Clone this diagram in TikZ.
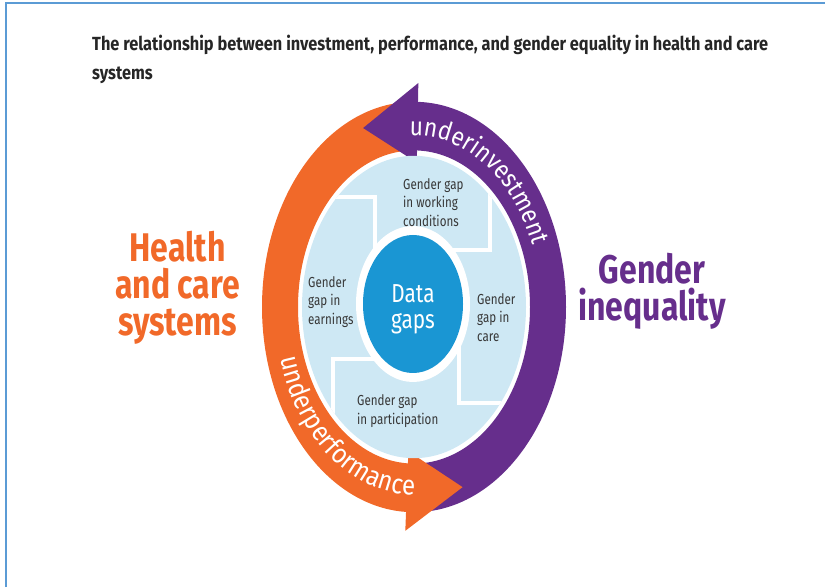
\documentclass[tikz,border=0pt]{standalone}
\usepackage{fontspec}
\setmainfont{Fira Sans}
\newfontfamily\condfont[FakeStretch=0.8]{Fira Sans}
\newfontfamily\headfont[FakeStretch=0.86]{Fira Sans}
\newfontfamily\arcfont[FakeStretch=0.88]{Fira Sans}
\newcommand\arcletters{\arcfont\fontsize{26}{26}\selectfont\color{white}}
\newcommand\arclarge{\arcfont\fontsize{27.5}{27.5}\selectfont\color{white}}
\usetikzlibrary{decorations.text}
\definecolor{frameblue}{RGB}{91,155,213}
\definecolor{careorange}{RGB}{241,105,41}
\definecolor{equalpurple}{RGB}{102,46,140}
\definecolor{gappale}{RGB}{206,232,244}
\definecolor{datablue}{RGB}{26,150,211}
\definecolor{labelgrey}{RGB}{55,55,55}
\begin{document}
\begin{tikzpicture}[x=1pt,y=1pt,
    gaplabel/.style={inner sep=0pt,align=left,anchor=west,text=labelgrey,font=\condfont\fontsize{14.5}{18.5}\selectfont},
    biglabel/.style={inner sep=0pt,align=center,font=\condfont\bfseries\fontsize{40}{37}\selectfont},
    cutline/.style={white,line width=4.5pt},
    ringtext/.style={decorate,decoration={text along path,text={#1}}}]
    \useasboundingbox (0,0) rectangle (825,587);
    \draw[frameblue,line width=2pt] (6,0) -- (6,584) -- (825,584);
    \node[inner sep=0pt,anchor=north west,align=left,text=black!85,font=\headfont\bfseries\fontsize{19}{29}\selectfont] (title) at (92,552) {The relationship between investment, performance, and gender equality in health and care\\systems};
    \begin{scope}[shift={(414,280)}]
        % the two arrows of the ring
        \fill[careorange] (92:152 and 205.2) arc[start angle=92,end angle=268,x radius=152,y radius=205.2] -- (268:116 and 156.6) arc[start angle=268,end angle=92,x radius=116,y radius=156.6] -- cycle;
        \fill[equalpurple] (-90:152 and 205.2) arc[start angle=-90,end angle=90,x radius=152,y radius=205.2] -- (90:116 and 156.6) arc[start angle=90,end angle=-90,x radius=116,y radius=156.6] -- cycle;
        \fill[equalpurple] (88.5:166 and 224.1) -- (111:142 and 191.7) -- (88.5:107 and 144.5) -- cycle;
        \fill[careorange] (267:166 and 224.1) -- (-70:142 and 191.7) -- (267:107 and 144.5) -- cycle;
        \path[ringtext={|\arcletters|underinvestment}] (92:127 and 171.5) arc[start angle=92,end angle=10,x radius=127,y radius=171.5];
        \path[ringtext={|\arclarge|underperformance}] (196:139 and 187.7) arc[start angle=196,end angle=290,x radius=139,y radius=187.7];
        % the four gaps
        \fill[gappale] (0,0) ellipse[x radius=112,y radius=151.2];
        \begin{scope}
            \clip (0,0) ellipse[x radius=112,y radius=151.2];
            \draw[cutline] (-150,110) -- (-39,110) -- (-39,0);
            \draw[cutline] (76,210) -- (76,57) -- (0,57);
            \draw[cutline] (150,-96) -- (45,-96) -- (45,0);
            \draw[cutline] (-81,-210) -- (-81,-52) -- (0,-52);
        \end{scope}
        \fill[white] (-1,3) ellipse[x radius=57,y radius=78];
        \fill[datablue] (-1,3) ellipse[x radius=50,y radius=69];
    \end{scope}
    \node[inner sep=0pt,align=center,text=white,font=\condfont\fontsize{26}{26}\selectfont] (datagaps) at (413,278) {Data\\gaps};
    \node[gaplabel] (working) at (403,384.5) {Gender gap\\in working\\conditions};
    \node[gaplabel] (earnings) at (308,285) {Gender\\gap in\\earnings};
    \node[gaplabel] (care) at (477,269.5) {Gender\\gap in\\care};
    \node[gaplabel] (participation) at (357,176) {Gender gap\\in participation};
    \node[biglabel,text=careorange] (health) at (177.5,299.5) {Health\\and care\\systems};
    \node[biglabel,text=equalpurple] (inequality) at (652,295.5) {Gender\\inequality};
\end{tikzpicture}
\end{document}
